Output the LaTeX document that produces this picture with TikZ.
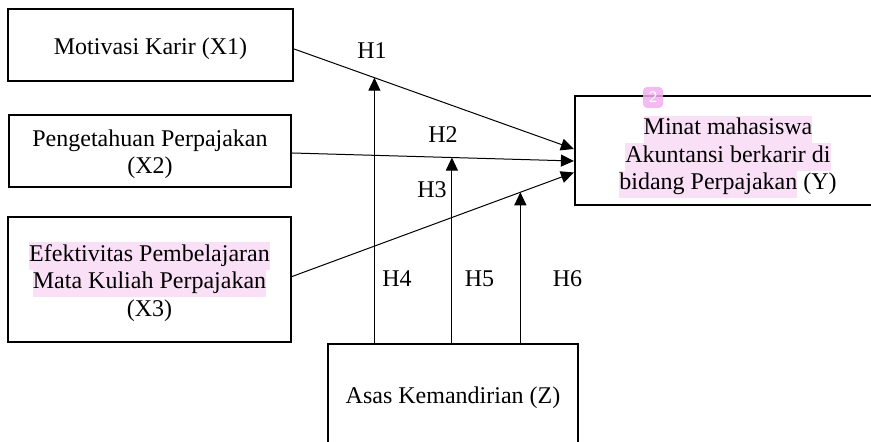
\documentclass[tikz,border=0pt]{standalone}
\usepackage{fontspec}
\setmainfont{Liberation Serif}
\usetikzlibrary{arrows.meta,calc}
\definecolor{hl}{HTML}{FAE0F6}
\definecolor{badgecol}{HTML}{F2AEEE}
\newcommand{\hlt}[1]{{\setlength{\fboxsep}{0pt}\colorbox{hl}{\strut #1}}}
\begin{document}
\begin{tikzpicture}[x=0.5pt,y=-0.5pt,
  box/.style={draw,line width=1.1pt,inner sep=0pt},
  txt/.style={font=\fontsize{12}{13.75}\selectfont,align=center,inner sep=0pt},
  arr/.style={line width=0.5pt,-{Triangle[length=6.5pt,width=6pt]}},
  hyp/.style={font=\fontsize{12}{13.75}\selectfont,anchor=base,inner sep=0pt}]
\useasboundingbox (0,0) rectangle (871,442);
% boxes
\node[box,minimum width=142.5pt,minimum height=36pt] (x1) at (150.5,45) {};
\node[box,minimum width=141pt,minimum height=36pt] (x2) at (150,151) {};
\node[box,minimum width=141.5pt,minimum height=62.5pt] (x3) at (149.5,279.5) {};
\node[box,minimum width=152.5pt,minimum height=54.5pt] (y) at (727.5,150.5) {};
\node[box,minimum width=125pt,minimum height=63pt] (z) at (453,407) {};
% texts
\node[txt] (x1t) at (150.5,49.5) {\strut Motivasi Karir (X1)};
\node[txt] (x2t) at (150,154.5) {\strut Pengetahuan Perpajakan\\\strut (X2)};
\node[txt] (x3t) at (149.5,283.5) {\hlt{Efektivitas Pembelajaran}\\\hlt{Mata Kuliah Perpajakan}\\\strut (X3)};
\node[txt] (yt) at (728,157) {\hlt{Minat mahasiswa}\\\hlt{Akuntansi berkarir di}\\\hlt{bidang Perpajakan}\strut{} (Y)};
\node[txt] (zt) at (453,397.5) {\strut Asas Kemandirian (Z)};
% badge
\node[fill=badgecol,fill opacity=0.85,text opacity=1,rounded corners=2pt,minimum width=10pt,minimum height=10.5pt,inner sep=0pt,text=white,font=\sffamily\fontsize{8}{9}\selectfont] (badge) at (653,97.5) {2};
% direct paths
\draw[arr] ($(x1.east)+(0,4)$) -- coordinate[pos=0.287] (p1) ($(y.west)+(0,-1.5)$);
\draw[arr] ($(x2.east)+(0,2)$) -- coordinate[pos=0.567] (p2) ($(y.west)+(0,10.5)$);
\draw[arr] ($(x3.east)+(0,-3)$) -- coordinate[pos=0.81] (p3) ($(y.west)+(0,22)$);
% moderating paths
\draw[arr] (p1 |- z.north) -- (p1);
\draw[arr] (p2 |- z.north) -- (p2);
\draw[arr] (p3 |- z.north) -- (p3);
% labels
\node[hyp] (h1) at (372,59) {H1};
\node[hyp] (h2) at (443,143) {H2};
\node[hyp] (h3) at (432,198) {H3};
\node[hyp] (h4) at (397,287) {H4};
\node[hyp] (h5) at (479.5,287) {H5};
\node[hyp] (h6) at (567.5,287) {H6};
\end{tikzpicture}
\end{document}
